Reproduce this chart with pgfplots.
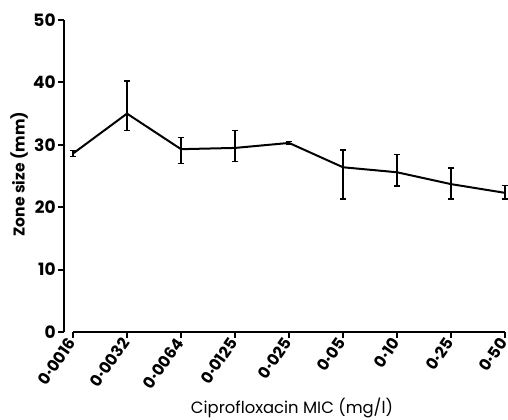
\documentclass[border=0pt]{standalone}
\usepackage{pgfplots}
\pgfplotsset{compat=1.18}
\usepackage{fontspec}
\setmainfont{Poppins}
\begin{document}
\begin{tikzpicture}
\path[use as bounding box] (-32pt,-43.5pt) rectangle (222pt,166pt);
\begin{axis}[
  at={(0,0)}, anchor=south west,
  scale only axis,
  width=220.5pt, height=156pt,
  xmin=-0.1667, xmax=8,
  ymin=0, ymax=50,
  axis lines=left,
  axis line style={line width=1.1pt, -},
  x axis line style={draw=none},
  tick align=outside,
  major tick length=3pt,
  tick style={line width=1pt, black},
  ytick={0,10,...,50},
  xtick={0,...,8},
  xticklabels={0·0016,0·0032,0·0064,0·0125,0·025,0·05,0·10,0·25,0·50},
  x tick label style={rotate=55, anchor=east, inner sep=1pt, font=\fontsize{8}{9}\selectfont\bfseries},
  y tick label style={font=\fontsize{8.5}{10}\selectfont\bfseries, inner sep=1pt},
  /pgf/number format/assume math mode=true,
  xlabel={Ciprofloxacin MIC (mg/l)},
  xlabel style={at={(axis description cs:0.517,-0.244)}, anchor=center, font=\fontsize{8.2}{10}\selectfont},
  ylabel={Zone size (mm)},
  ylabel style={at={(axis description cs:-0.102,0.506)}, anchor=center, rotate=0, font=\fontsize{7.8}{9}\selectfont\bfseries},
  clip=false,
]
\draw[line width=1.1pt] (axis cs:0,0) -- (axis cs:8,0);
\addplot[black, line width=1pt, mark=none,
  error bars/.cd, y dir=both, y explicit,
  error bar style={line width=0.7pt},
  error mark options={rotate=90, mark size=1.6pt, line width=0.7pt}]
  coordinates {
  (0,28.6) +- (0,0.5)
  (1,35.0) += (0,5.2) -= (0,2.7)
  (2,29.3) += (0,1.9) -= (0,2.3)
  (3,29.5) += (0,2.8) -= (0,2.2)
  (4,30.3) +- (0,0.2)
  (5,26.4) += (0,2.8) -= (0,5.1)
  (6,25.6) += (0,2.8) -= (0,2.2)
  (7,23.7) += (0,2.6) -= (0,2.4)
  (8,22.3) += (0,1.2) -= (0,1.0)
  };
\end{axis}
\end{tikzpicture}
\end{document}
